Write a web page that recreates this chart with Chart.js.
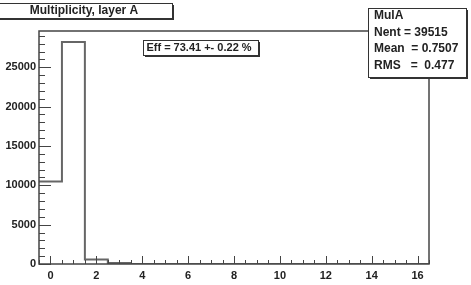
<!DOCTYPE html>
<html>
<head>
<meta charset="utf-8">
<script src="https://cdn.jsdelivr.net/npm/chart.js@4.4.1/dist/chart.umd.min.js"></script>
<style>
html, body { margin: 0; padding: 0; background: #fff; }
#wrap { width: 471px; height: 285px; }
</style>
</head>
<body>
<div id="wrap"><canvas id="c"></canvas></div>
<script>
// histogram data (bin centres, bin contents)
const binCenters = [0, 1, 2, 3, 4, 5, 6, 7, 8, 9, 10, 11, 12, 13, 14, 15, 16];
const counts = [10500, 28200, 560, 120, 0, 0, 0, 0, 0, 0, 0, 0, 0, 0, 0, 0, 0];
const xTicks = [0, 2, 4, 6, 8, 10, 12, 14, 16];
const yTicks = [0, 5000, 10000, 15000, 20000, 25000];
const titleText = 'Multiplicity, layer A';
const statsLines = ['MulA', 'Nent = 39515', 'Mean  = 0.7507', 'RMS   =  0.477'];
const effText = 'Eff = 73.41 +- 0.22 %';

// step outline points at bin edges
const stepPoints = binCenters.map((c, i) => ({ x: c - 0.5, y: counts[i] }));
stepPoints.push({ x: binCenters[binCenters.length - 1] + 0.5, y: counts[counts.length - 1] });

const yMax = Math.max(...counts) * 1.05;
const FONT = "'Liberation Sans', Arial, sans-serif";

Chart.defaults.font.family = FONT;
Chart.defaults.font.weight = 'bold';
Chart.defaults.font.size = 11;
Chart.defaults.color = '#222';

function drawBox(ctx, x, y, w, h) {
    ctx.fillStyle = '#333';
    ctx.fillRect(x + 2, y + 2, w, h);
    ctx.fillStyle = '#fff';
    ctx.fillRect(x, y, w, h);
    ctx.strokeStyle = '#333';
    ctx.lineWidth = 1;
    ctx.strokeRect(x + 0.5, y + 0.5, w, h);
}

const framePlugin = {
    id: 'frame',
    afterDatasetsDraw(chart) {
        const ctx = chart.ctx;
        const a = chart.chartArea;
        const xs = chart.scales.x, ys = chart.scales.y;
        ctx.save();
        ctx.strokeStyle = '#444';
        ctx.lineWidth = 1.5;
        ctx.strokeRect(a.left, a.top, a.right - a.left, a.bottom - a.top);
        ctx.lineWidth = 1;
        ctx.beginPath();
        // x ticks, pointing up into the frame
        for (let v = -0.5; v <= 16.5; v += 0.5) {
            const px = Math.round(xs.getPixelForValue(v)) + 0.5;
            const len = (v % 2 === 0) ? 8 : 4;
            ctx.moveTo(px, a.bottom);
            ctx.lineTo(px, a.bottom - len);
        }
        // y ticks, pointing right into the frame
        for (let v = 0; v <= yMax; v += 1000) {
            const py = Math.round(ys.getPixelForValue(v)) + 0.5;
            const len = (v % 5000 === 0) ? 12 : 6;
            ctx.moveTo(a.left, py);
            ctx.lineTo(a.left + len, py);
        }
        ctx.stroke();
        ctx.restore();
    },
    afterDraw(chart) {
        const ctx = chart.ctx;
        ctx.save();
        ctx.textBaseline = 'middle';
        // title box
        drawBox(ctx, -2, 3, 174, 15);
        ctx.fillStyle = '#222';
        ctx.font = 'bold 12px ' + FONT;
        ctx.textAlign = 'center';
        ctx.fillText(titleText, 84, 11);
        // efficiency box
        drawBox(ctx, 143, 40, 115, 15);
        ctx.fillStyle = '#222';
        ctx.font = 'bold 11px ' + FONT;
        ctx.fillText(effText, 199, 48);
        // stats box
        drawBox(ctx, 368, 8, 98, 69);
        ctx.fillStyle = '#222';
        ctx.font = 'bold 12px ' + FONT;
        ctx.textAlign = 'left';
        statsLines.forEach((s, i) => ctx.fillText(s, 374, 16 + i * 16.5));
        ctx.restore();
    }
};

new Chart(document.getElementById('c'), {
    type: 'line',
    data: {
        datasets: [{
            data: stepPoints,
            stepped: 'before',
            borderColor: '#666',
            borderWidth: 2,
            pointRadius: 0,
            fill: false
        }]
    },
    options: {
        responsive: true,
        maintainAspectRatio: false,
        animation: false,
        layout: { padding: { top: 31, right: 42, left: 0, bottom: 0 } },
        plugins: { legend: { display: false }, tooltip: { enabled: false } },
        scales: {
            x: {
                type: 'linear',
                min: -0.5,
                max: 16.5,
                afterBuildTicks: s => { s.ticks = xTicks.map(v => ({ value: v })); },
                afterFit: s => { s.height = 21; },
                grid: { display: false, drawTicks: false },
                border: { display: false },
                ticks: { padding: 5, maxRotation: 0, autoSkip: false, callback: v => String(v) }
            },
            y: {
                min: 0,
                max: yMax,
                afterBuildTicks: s => { s.ticks = yTicks.map(v => ({ value: v })); },
                afterFit: s => { s.width = 39; },
                grid: { display: false, drawTicks: false },
                border: { display: false },
                ticks: { padding: 3, autoSkip: false, callback: v => String(v) }
            }
        }
    },
    plugins: [framePlugin]
});
</script>
</body>
</html>
